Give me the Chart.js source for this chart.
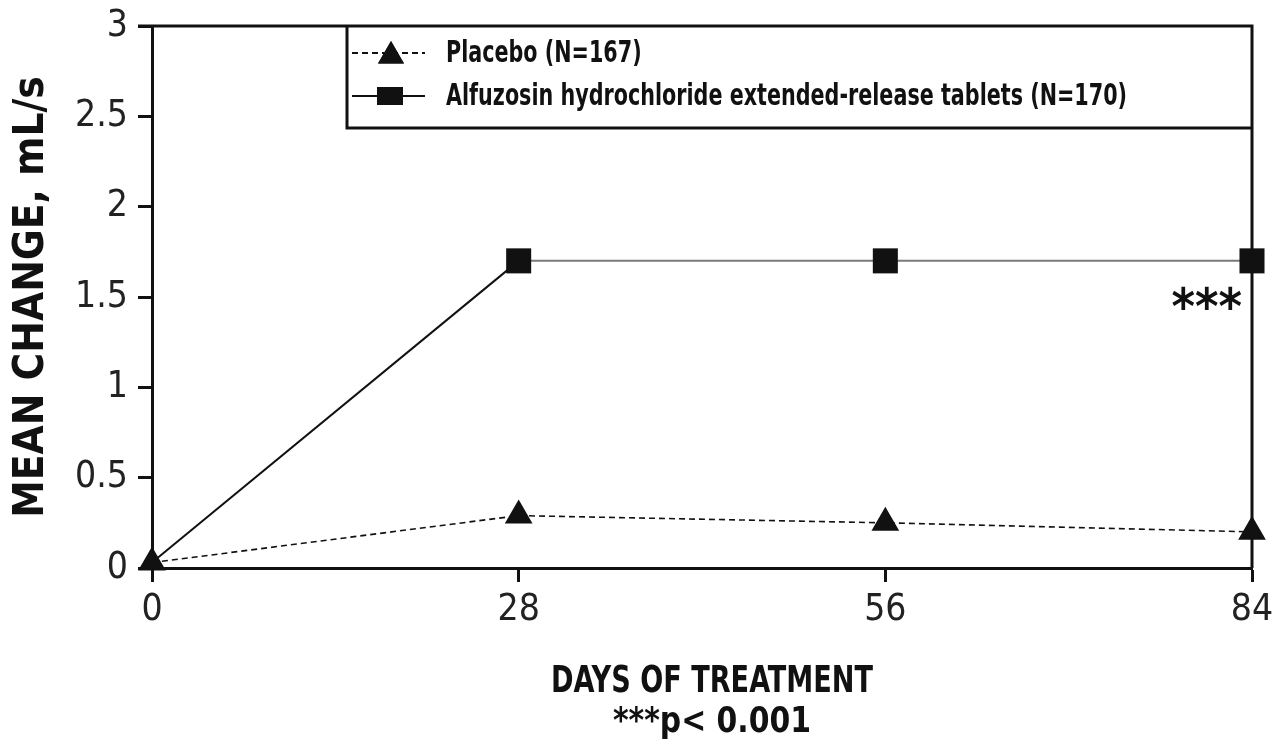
<!DOCTYPE html>
<html>
<head>
<meta charset="utf-8">
<script src="https://cdn.jsdelivr.net/npm/chart.js@4.4.1/dist/chart.umd.min.js"></script>
<style>
    html, body { margin: 0; padding: 0; background: #fff; }
    #wrap { width: 1277px; height: 750px; }
</style>
</head>
<body>
<div id="wrap"><canvas id="chart" width="1277" height="750"></canvas></div>
<script>
const days = [0, 28, 56, 84];
const placebo = [0.03, 0.29, 0.25, 0.2];
const alfuzosin = [0.03, 1.7, 1.7, 1.7];
const seriesNames = ["Placebo (N=167)", "Alfuzosin hydrochloride extended-release tablets (N=170)"];
const yTicks = [0, 0.5, 1, 1.5, 2, 2.5, 3];
const xTitle = "DAYS OF TREATMENT";
const yTitle = "MEAN CHANGE, mL/s";
const footNote = "***p< 0.001";

const narrow = "'Liberation Sans Narrow', 'DejaVu Sans Condensed', sans-serif";

function toPoints(vals) {
    return days.map(function(d, i) {
        return {x: d, y: vals[i]};
    });
}

// draws text squeezed to a given width (the original face is a condensed one)
function squeezeText(ctx, text, x, y, width, align) {
    let w = ctx.measureText(text).width;
    let sx = Math.min(1, width / w);
    ctx.save();
    ctx.translate(x, y);
    ctx.scale(sx, 1);
    ctx.textAlign = align;
    ctx.fillText(text, 0, 0);
    ctx.restore();
}

// frame, legend box, titles and the *** mark
const decorations = {
    id: "decorations",
    afterDraw: function(chart) {
        let ctx = chart.ctx;
        let a = chart.chartArea;
        let xs = chart.scales.x;
        let ys = chart.scales.y;
        ctx.save();
        ctx.strokeStyle = "#111";
        ctx.lineWidth = 3;
        ctx.beginPath();
        ctx.moveTo(a.left - 14, a.top);
        ctx.lineTo(a.right, a.top);
        ctx.lineTo(a.right, a.bottom);
        ctx.stroke();

        // legend
        let lx = a.left + 195;
        let ly = a.top;
        let lh = 102;
        ctx.fillStyle = "#fff";
        ctx.fillRect(lx, ly + 2, a.right - lx - 2, lh - 2);
        ctx.beginPath();
        ctx.moveTo(lx, ly);
        ctx.lineTo(lx, ly + lh);
        ctx.lineTo(a.right, ly + lh);
        ctx.stroke();

        let rows = [ly + 27, ly + 70];
        ctx.lineWidth = 2;
        ctx.strokeStyle = "#111";
        ctx.setLineDash([6, 4]);
        ctx.beginPath();
        ctx.moveTo(lx + 5, rows[0]);
        ctx.lineTo(lx + 78, rows[0]);
        ctx.stroke();
        ctx.setLineDash([]);
        ctx.beginPath();
        ctx.moveTo(lx + 5, rows[1]);
        ctx.lineTo(lx + 78, rows[1]);
        ctx.stroke();
        ctx.fillStyle = "#111";
        Chart.helpers.drawPoint(ctx, {pointStyle: "triangle", radius: 15, rotation: 0, borderWidth: 0}, lx + 44, rows[0] + 3);
        ctx.fill();
        ctx.fillRect(lx + 30, rows[1] - 9, 26, 18);

        ctx.font = "bold 31px " + narrow;
        ctx.textBaseline = "middle";
        let sx = 681 / ctx.measureText(seriesNames[1]).width;
        squeezeText(ctx, seriesNames[0], lx + 99, rows[0] + 1, ctx.measureText(seriesNames[0]).width * sx, "left");
        squeezeText(ctx, seriesNames[1], lx + 99, rows[1] + 1, 681, "left");

        // *** mark near last alfuzosin point
        ctx.font = "bold 50px " + narrow;
        ctx.textBaseline = "middle";
        squeezeText(ctx, "***", xs.getPixelForValue(84) - 10, ys.getPixelForValue(1.42), 74, "right");

        // axis titles
        let cx = (a.left + a.right) / 2 + 10;
        ctx.font = "bold 38px " + narrow;
        squeezeText(ctx, xTitle, cx, a.bottom + 114, 322, "center");
        ctx.font = "bold 36px " + narrow;
        squeezeText(ctx, footNote, cx, a.bottom + 155, 198, "center");

        ctx.translate(32, (a.top + a.bottom) / 2);
        ctx.rotate(-Math.PI / 2);
        ctx.font = "bold 42px " + narrow;
        squeezeText(ctx, yTitle, 0, 0, 442, "center");
        ctx.restore();
    }
};

let ctx = document.getElementById("chart").getContext("2d");
let chart = new Chart(ctx, {
    type: "line",
    data: {
        datasets: [{
            label: seriesNames[0],
            data: toPoints(placebo),
            borderColor: "#111",
            backgroundColor: "#111",
            borderWidth: 1.6,
            borderDash: [6, 4],
            pointStyle: "triangle",
            pointRadius: 16,
            pointBorderWidth: 0,
            pointBackgroundColor: "#111",
            clip: false,
            tension: 0
        }, {
            label: seriesNames[1],
            data: toPoints(alfuzosin),
            borderColor: "#111",
            backgroundColor: "#111",
            borderWidth: 2,
            segment: {
                borderColor: function(c) {
                    return c.p0DataIndex >= 1 ? "#7a7a7a" : "#111";
                }
            },
            pointStyle: "rect",
            pointRadius: [0, 17.7, 17.7, 17.7],
            pointBorderWidth: 0,
            pointBackgroundColor: "#111",
            clip: false,
            tension: 0
        }]
    },
    options: {
        responsive: false,
        animation: false,
        devicePixelRatio: 1,
        layout: {
            padding: {top: 26, right: 25, left: 0, bottom: 0}
        },
        plugins: {
            legend: {display: false},
            tooltip: {enabled: false}
        },
        scales: {
            x: {
                type: "linear",
                min: 0,
                max: 84,
                afterFit: function(scale) {
                    scale.height = 182;
                    scale.paddingLeft = 0;
                    scale.paddingRight = 0;
                },
                afterBuildTicks: function(scale) {
                    scale.ticks = days.map(function(d) { return {value: d}; });
                },
                border: {display: true, color: "#111", width: 3},
                grid: {drawOnChartArea: false, drawTicks: true, tickLength: 14, tickWidth: 3, tickColor: "#111"},
                ticks: {
                    color: "#222",
                    padding: 6,
                    font: {family: narrow, size: 37},
                    callback: function(v) { return String(v); }
                }
            },
            y: {
                min: 0,
                max: 3,
                afterFit: function(scale) {
                    scale.width = 152;
                    scale.paddingTop = 0;
                    scale.paddingBottom = 0;
                },
                afterBuildTicks: function(scale) {
                    scale.ticks = yTicks.map(function(v) { return {value: v}; });
                },
                border: {display: true, color: "#111", width: 3},
                grid: {drawOnChartArea: false, drawTicks: true, tickLength: 14, tickWidth: 3, tickColor: "#111"},
                ticks: {
                    color: "#222",
                    padding: 10,
                    font: {family: narrow, size: 37},
                    callback: function(v) { return String(v); }
                }
            }
        }
    },
    plugins: [decorations]
});
</script>
</body>
</html>
